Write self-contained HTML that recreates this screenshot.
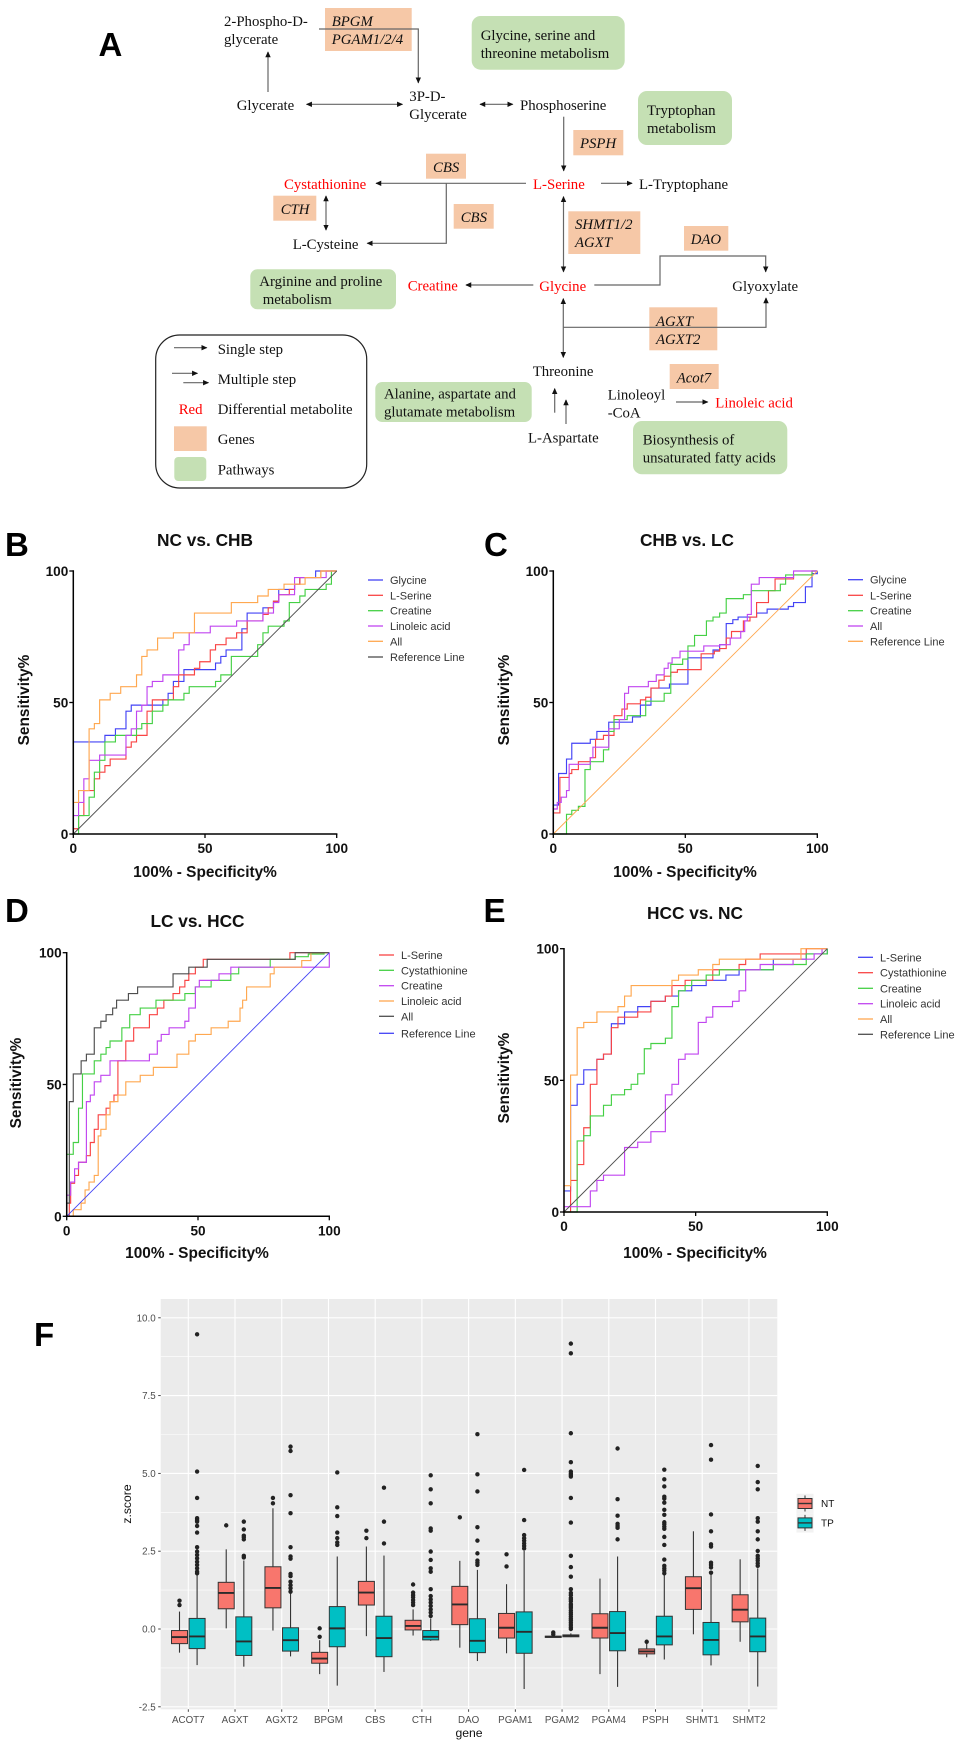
<!DOCTYPE html>
<html lang="en">
<head>
<meta charset="utf-8">
<title>Serine and glycine metabolism figure</title>
<style>
html,body{margin:0;padding:0;background:#fff;width:963px;height:1748px;overflow:hidden}
svg{display:block;filter:blur(.3px)}
.m{font:14.8px "Liberation Serif",serif;fill:#111}
.i{font:italic 14.8px "Liberation Serif",serif;fill:#111}
.r{fill:#f00}
.gene{fill:#f6c8a7}
.path{fill:#c5e0b4}
.ln{fill:none;stroke:#666;stroke-width:1.2}
.panel{font:bold 33px "Liberation Sans",sans-serif;fill:#000}
</style>
</head>
<body>
<svg id="fig" xmlns="http://www.w3.org/2000/svg" width="963" height="1748" viewBox="0 0 963 1748">
<defs>
<marker id="ah" viewBox="0 0 8 8" refX="7" refY="4" markerWidth="6" markerHeight="6" markerUnits="userSpaceOnUse" orient="auto-start-reverse"><path d="M0 0.4L8 4L0 7.6z" fill="#111"/></marker>
</defs>
<rect width="963" height="1748" fill="#fff"/>

<g id="panel-a">
<text class="panel" x="98.5" y="56">A</text>

<rect class="gene" x="325" y="8" width="86.7" height="43"/>
<rect class="gene" x="573.3" y="130" width="50" height="25.3"/>
<rect class="gene" x="426" y="153.7" width="40" height="25"/>
<rect class="gene" x="273.3" y="195.7" width="43" height="25"/>
<rect class="gene" x="453.7" y="204" width="40" height="24.7"/>
<rect class="gene" x="568.3" y="211.3" width="72" height="42.7"/>
<rect class="gene" x="684" y="226" width="44.3" height="24.7"/>
<rect class="gene" x="649.3" y="307.3" width="68" height="43"/>
<rect class="gene" x="669.7" y="364" width="49" height="25"/>

<rect class="path" x="471.7" y="16" width="153" height="53.7" rx="9"/>
<rect class="path" x="638" y="91" width="94" height="54" rx="9"/>
<rect class="path" x="250.3" y="269.3" width="145.7" height="40" rx="7"/>
<rect class="path" x="375.3" y="382" width="156.4" height="40" rx="7"/>
<rect class="path" x="633" y="421" width="154.3" height="53.3" rx="9"/>

<path class="ln" d="M268 92V52" marker-end="url(#ah)"/>
<path class="ln" d="M319 29H418.3V82.7" marker-end="url(#ah)"/>
<path class="ln" d="M306.7 104.3H402.3" marker-start="url(#ah)" marker-end="url(#ah)"/>
<path class="ln" d="M480 104.3H512.7" marker-start="url(#ah)" marker-end="url(#ah)"/>
<path class="ln" d="M563.7 116.7V170.7" marker-end="url(#ah)"/>
<path class="ln" d="M526 183.3H376" marker-end="url(#ah)"/>
<path class="ln" d="M446.3 183.3V243.3H367.3" marker-end="url(#ah)"/>
<path class="ln" d="M601 183.3H632" marker-end="url(#ah)"/>
<path class="ln" d="M326 196V230" marker-start="url(#ah)" marker-end="url(#ah)"/>
<path class="ln" d="M563.5 196.7V271.7" marker-start="url(#ah)" marker-end="url(#ah)"/>
<path class="ln" d="M533.3 285H466" marker-end="url(#ah)"/>
<path class="ln" d="M594.3 285H660V256H765.7V271.7" marker-end="url(#ah)"/>
<path class="ln" d="M563.3 298.7V357.3" marker-start="url(#ah)" marker-end="url(#ah)"/>
<path class="ln" d="M563.3 327.3H766V298" marker-end="url(#ah)"/>
<path class="ln" d="M554.7 412.7V388.7" marker-end="url(#ah)"/>
<path class="ln" d="M566 424V400" marker-end="url(#ah)"/>
<path class="ln" d="M676 402H707.7" marker-end="url(#ah)"/>

<text class="m" x="224" y="26">2-Phospho-D-</text>
<text class="m" x="224" y="44">glycerate</text>
<text class="i" x="331.7" y="26">BPGM</text>
<text class="i" x="331.7" y="44">PGAM1/2/4</text>
<text class="m" x="480.7" y="40">Glycine, serine and</text>
<text class="m" x="480.7" y="58">threonine metabolism</text>
<text class="m" x="236.7" y="110">Glycerate</text>
<text class="m" x="409.3" y="101">3P-D-</text>
<text class="m" x="409.3" y="119">Glycerate</text>
<text class="m" x="520" y="110">Phosphoserine</text>
<text class="m" x="647" y="115">Tryptophan</text>
<text class="m" x="647" y="133">metabolism</text>
<text class="i" x="580" y="148">PSPH</text>
<text class="i" x="433" y="172">CBS</text>
<text class="m r" x="284" y="189">Cystathionine</text>
<text class="m r" x="533" y="189">L-Serine</text>
<text class="m" x="639" y="189">L-Tryptophane</text>
<text class="i" x="280.7" y="214">CTH</text>
<text class="i" x="460.7" y="222">CBS</text>
<text class="i" x="575" y="229">SHMT1/2</text>
<text class="i" x="575" y="247">AGXT</text>
<text class="i" x="690.7" y="244">DAO</text>
<text class="m" x="292.7" y="249">L-Cysteine</text>
<text class="m" x="259.3" y="286">Arginine and proline</text>
<text class="m" x="262.7" y="304">metabolism</text>
<text class="m r" x="407.7" y="290.7">Creatine</text>
<text class="m r" x="539.3" y="291">Glycine</text>
<text class="m" x="732.3" y="291">Glyoxylate</text>
<text class="i" x="656" y="326">AGXT</text>
<text class="i" x="656" y="344">AGXT2</text>
<text class="m" x="532.7" y="376">Threonine</text>
<text class="i" x="676.7" y="382.7">Acot7</text>
<text class="m" x="607.7" y="399.3">Linoleoyl</text>
<text class="m" x="607.7" y="417.7">-CoA</text>
<text class="m r" x="715.3" y="407.7">Linoleic acid</text>
<text class="m" x="384" y="398.3">Alanine, aspartate and</text>
<text class="m" x="384" y="416.7">glutamate metabolism</text>
<text class="m" x="528" y="442.3">L-Aspartate</text>
<text class="m" x="642.7" y="444.3">Biosynthesis of</text>
<text class="m" x="642.7" y="462.3">unsaturated fatty acids</text>

<g>
<rect x="155.7" y="335" width="211" height="153" rx="24" fill="none" stroke="#222" stroke-width="1.2"/>
<path class="ln" d="M174 347.7H206.7" marker-end="url(#ah)"/>
<path class="ln" d="M172 373.3H197.3" marker-end="url(#ah)"/>
<path class="ln" d="M183.3 382.7H208.3" marker-end="url(#ah)"/>
<rect class="gene" x="174" y="426.3" width="32.7" height="24.7"/>
<rect class="path" x="174.3" y="457" width="32" height="24" rx="4"/>
<text class="m" x="217.7" y="354">Single step</text>
<text class="m" x="217.7" y="384">Multiple step</text>
<text class="m r" x="178.7" y="414">Red</text>
<text class="m" x="217.7" y="414">Differential metabolite</text>
<text class="m" x="217.7" y="444">Genes</text>
<text class="m" x="217.7" y="474.5">Pathways</text>
</g>
</g>

<text class="panel" x="5" y="556">B</text>
<text class="panel" x="484" y="556">C</text>
<text class="panel" x="5" y="922">D</text>
<text class="panel" x="483.5" y="922">E</text>
<text class="panel" x="34" y="1346">F</text>
</svg>

<script>
// ROC tick labels
const rocTicks = [0, 50, 100];

// Panel B: NC vs. CHB. Each entry: [100%-specificity, sensitivity]
const rocB_glycine = [[0,35],[12,37.5],[16,40],[20,46.7],[22,49],[34,51],[36,53.5],[38,58],[42,62.5],[54,65],[56,67.5],[58,70],[64,78],[66,84],[72,86],[76,88.5],[78,93],[84,95],[86,97.5],[92,100],[100,100]];
const rocB_serine = [[0,2],[2,7],[4,16.5],[8,21],[10,23.5],[12,26],[14,28.5],[20,33],[22,35],[24,37.5],[28,46.7],[30,51],[38,56],[40,60.5],[46,63],[48,65.5],[52,70],[54,72],[58,74.5],[62,76.5],[66,81],[72,83.5],[74,86],[76,88.5],[78,91],[82,93],[84,95],[86,97.5],[94,100],[100,100]];
const rocB_creatine = [[0,0],[2,7],[6,14],[8,23.5],[10,28],[12,35],[16,37.5],[24,40],[26,42],[30,46.7],[34,49],[36,51],[42,53.5],[44,56],[54,58],[56,60.5],[60,67.5],[70,72],[72,76.5],[74,79],[80,81],[82,88],[86,90.5],[88,93],[96,95],[98,100],[100,100]];
const rocB_linoleic = [[0,7],[2,12],[4,21],[6,28],[10,30],[20,37.5],[22,40],[24,46.7],[26,49],[28,56],[30,58],[34,60.5],[40,70],[42,72],[44,76.5],[52,79],[62,81],[72,84],[76,88],[78,91],[84,97.5],[96,100],[100,100]];
const rocB_all = [[0,12],[2,16.5],[6,40],[8,42],[10,51],[14,53.5],[18,56],[24,60.5],[26,67.5],[28,70],[32,74.5],[38,76.5],[46,84],[60,88],[70,90.5],[74,93],[80,95],[88,97.5],[94,100],[100,100]];
const rocB_names = ["Glycine","L-Serine","Creatine","Linoleic acid","All","Reference Line"];

// Panel C: CHB vs. LC
const rocC_glycine = [[0,11],[2,23],[5,28.5],[7,34.5],[14,36],[16.5,39],[21,42.5],[30,44.5],[33,49],[37,55.5],[44,57],[51,67],[60.5,70],[63,72],[65.5,80],[68,81.5],[70,82.5],[77,84],[81,85.5],[89,86.5],[91,88],[95.5,94],[98,99],[100,100]];
const rocC_serine = [[0,8],[2.5,21.5],[6,23],[7,24.5],[9.5,27.5],[14,29],[16,36],[19,37.5],[23,45],[26,47.5],[28,49.5],[33,51],[35,52],[37,55.5],[40,58.5],[42,60],[44.5,61.5],[47,62.5],[56,68.5],[61,69.5],[63,70.5],[65.5,74.5],[67.5,77],[72,81],[74.5,82.5],[77,88],[81.5,92.5],[84,97],[91,98.5],[98,100],[100,100]];
const rocC_creatine = [[5,7.5],[7,9],[9.5,10.5],[12,24.5],[14,27.5],[19,32],[21,39],[23,43.5],[28,45],[35,50.5],[42,53.5],[44.5,64.5],[49,66.5],[51,71.5],[53.5,75.5],[58,81],[60.5,82.5],[63,84],[65.5,89.5],[72,91],[75,92.5],[86,95],[88,98.5],[98,100],[100,100]];
const rocC_all = [[0,9.5],[1.5,12],[3,14],[5,16.5],[6,26.5],[14,29],[15,33],[21,40],[25,43.5],[27,53.5],[28.5,56],[36,58],[39,60.5],[42,63],[43.5,65],[45,67],[48,69.5],[57,71.5],[63,72],[67,74.5],[71,77],[72.5,81],[73.5,83.5],[75,95],[78,97.5],[91,100],[100,100]];
const rocC_names = ["Glycine","L-Serine","Creatine","All","Reference Line"];

// Panel D: LC vs. HCC
const rocD_serine = [[0,0],[1,5],[1.5,12.5],[3,15.5],[4.5,20.5],[7.5,23],[9,28],[10.5,33],[12,38.5],[15,41],[16.5,43.5],[18,46],[19.5,59],[22.5,66.5],[25.5,71.5],[31.5,76.5],[34.5,79],[37,82],[40.5,84.5],[43,87],[45,89.5],[46.5,92],[49,94.5],[52,97.5],[85,100],[100,100]];
const rocD_cystathionine = [[0,23.5],[2.5,28],[4.5,41],[6,54],[10.5,59],[13,61.5],[15,64],[16.5,66.5],[21,71.5],[24,76.5],[28,79],[34,82],[45,84.5],[49,87],[55,89.5],[62.5,92],[65.5,94.5],[77.5,97.5],[87,98.5],[92,99.5],[98,100],[100,100]];
const rocD_creatine = [[0,8],[1.5,13],[3,18],[4.5,20.5],[7.5,43.5],[9,46],[10.5,51],[13,53.5],[16.5,59],[31.5,61.5],[34.5,66.5],[36,69],[39,71.5],[45,74],[46.5,79],[49,87],[50.5,89.5],[58,92],[62.5,94.5],[100,100]];
const rocD_linoleic = [[0,0],[2.5,2.5],[5.5,5],[7,10],[8.5,13],[10.5,15.5],[12,30.5],[13,33],[15,38.5],[16.5,43.5],[19.5,46],[22.5,51],[28,53.5],[33,56.5],[42,61.5],[46.5,66.5],[49,69],[55,71.5],[61.5,74],[66,79],[67,82],[68.5,87],[77.5,92],[79,94.5],[89.5,97],[93,100],[100,100]];
const rocD_all = [[0,5],[1,43.5],[2.5,54],[5.5,59],[7.5,61.5],[10.5,71.5],[13,74],[15,76.5],[17.5,79],[19,82],[23.5,84.5],[27,87],[40.5,92],[46.5,94.5],[53.5,97.5],[87,100],[100,100]];
const rocD_names = ["L-Serine","Cystathionine","Creatine","Linoleic acid","All","Reference Line"];

// Panel E: HCC vs. NC
const rocE_serine = [[0,8],[2.5,40.5],[5,48.5],[7.5,54],[12.5,58],[15,60],[18,71.5],[23,76],[28,78],[33,80],[38.5,82],[43.5,84],[48.5,86],[54,88],[61.5,90],[66.5,92],[79.5,96],[92,98],[100,100]];
const rocE_cystathionine = [[0,0],[2.5,12],[5,18],[7.5,32],[10,48.5],[12.5,58],[15,60],[18,70],[20.5,74],[28,76],[33,80],[38.5,82],[41,86],[46,88],[56.5,92],[66.5,94],[69,96],[74.5,98],[92,100],[100,100]];
const rocE_creatine = [[0,0],[5,27],[7.5,29],[10,36.5],[15,40.5],[18,44.5],[23,46.5],[25.5,48.5],[28,52.5],[30.5,62],[33,64],[38.5,66],[41,78],[43.5,84],[46,86],[48.5,88],[54,90],[59,92],[79.5,94],[92,98],[100,100]];
const rocE_linoleic = [[0,2],[10,8],[12.5,12],[15,14],[23,24.5],[28,26.5],[33,30.5],[38.5,44.5],[41,48.5],[43.5,58],[46,60],[51,72],[54,74],[56.5,78],[64,80],[66.5,84],[69,92],[74.5,94],[87,96],[95,98],[98,100],[100,100]];
const rocE_all = [[0,10],[2.5,52],[5,70],[7.5,72],[12.5,76],[20.5,78],[23,82],[25.5,86],[41,88],[43.5,90],[51,92],[56.5,94],[59,96],[90,100],[100,100]];
const rocE_names = ["L-Serine","Cystathionine","Creatine","Linoleic acid","All","Reference Line"];

// Panel F: boxplot data
const genes = ["ACOT7","AGXT","AGXT2","BPGM","CBS","CTH","DAO","PGAM1","PGAM2","PGAM4","PSPH","SHMT1","SHMT2"];
const groupNames = ["NT","TP"];
const zTicks = [-2.5,0,2.5,5,7.5,10];
const zTickLabels = ["-2.5","0.0","2.5","5.0","7.5","10.0"];
const ntLow = [-0.76,0.02,-0.05,-1.45,-0.23,-0.21,-0.6,-0.78,-0.27,-1.45,-0.91,-0.17,-0.41];
const ntQ1 = [-0.47,0.65,0.68,-1.1,0.77,-0.03,0.14,-0.29,-0.27,-0.29,-0.8,0.63,0.23];
const ntMedian = [-0.26,1.16,1.32,-0.95,1.17,0.1,0.79,0.04,-0.25,0.04,-0.72,1.31,0.62];
const ntQ3 = [-0.05,1.5,2.0,-0.75,1.53,0.28,1.37,0.5,-0.23,0.49,-0.64,1.68,1.1];
const ntHigh = [0.56,2.56,3.88,-0.36,2.65,0.63,2.19,1.44,-0.2,1.62,-0.48,3.14,2.24];
const tpLow = [-1.16,-1.21,-0.88,-1.82,-1.38,-0.38,-1.03,-1.93,-0.26,-1.86,-0.98,-1.17,-1.85];
const tpQ1 = [-0.63,-0.85,-0.71,-0.57,-0.89,-0.35,-0.76,-0.78,-0.25,-0.7,-0.51,-0.83,-0.73];
const tpMedian = [-0.24,-0.4,-0.36,0.02,-0.29,-0.25,-0.38,-0.09,-0.21,-0.13,-0.24,-0.35,-0.24];
const tpQ3 = [0.34,0.39,0.04,0.72,0.41,-0.05,0.33,0.55,-0.19,0.56,0.41,0.21,0.35];
const tpHigh = [1.8,2.2,1.15,2.33,2.36,0.34,1.9,2.51,-0.14,2.33,1.74,1.79,1.95];
const ntOutliers = [[0.91,0.77],[3.33],[4.21,4.04],[0.02,-0.25],[3.16,2.92],[1.43,1.17,1.09,1.02,0.93,0.85,0.77],[3.59],[2.4,2.01],[-0.11,-0.17],[],[-0.41],[],[]];
const tpOutliers = [
 [9.47,5.06,4.21,3.56,3.5,3.45,3.31,3.1,2.63,2.49,2.38,2.27,2.16,2.06,1.95,1.84,1.79],
 [3.45,3.2,3.0,2.95,2.88,2.35,2.3],
 [5.86,5.72,4.3,3.72,2.63,2.33,2.26,1.77,1.7,1.52,1.41,1.31,1.2],
 [5.03,3.91,3.63,3.1,2.92,2.78,2.7],
 [4.54,3.45,2.75],
 [4.94,4.49,4.04,3.23,3.16,2.49,2.22,1.95,1.84,1.28,1.06,0.95,0.85,0.74,0.63,0.53,0.42],
 [6.26,4.97,4.42,3.27,2.84,2.43,2.2,2.13,2.06],
 [5.11,3.5,3.02,2.92,2.84,2.75,2.67,2.59],
 [9.17,8.86,6.29,5.36,5.06,5.0,4.95,4.9,4.21,3.42,2.35,1.99,1.68,1.28,1.16,1.09,1.0,0.95,0.89,0.8,0.74,0.68,0.6,0.53,0.47,0.4,0.33,0.27,0.2,0.13,0.06,0.0],
 [5.8,4.17,3.64,3.38,3.31,3.25,2.88],
 [5.12,4.81,4.58,4.25,4.19,4.06,3.83,3.67,3.43,3.37,3.29,3.22,2.96,2.7,2.23,2.03,1.95,1.88,1.79],
 [5.91,5.44,3.68,3.14,2.72,2.65,2.13,2.06,1.98,1.81],
 [5.24,4.72,4.49,3.56,3.45,3.14,2.88,2.51,2.35,2.27,2.2,2.11,2.03]
];

const SANS = '"Liberation Sans",sans-serif';
const NS = 'http://www.w3.org/2000/svg';
const fig = document.getElementById('fig');
function mk(parent, tag, attrs, text) {
  const e = document.createElementNS(NS, tag);
  for (const k in attrs) e.setAttribute(k, attrs[k]);
  if (text !== undefined) e.textContent = text;
  parent.appendChild(e);
  return e;
}
function slug(s) { return String(s).toLowerCase().replace(/[^a-z0-9]+/g, '-'); }

const BLUE = '#4343f5', RED = '#f94444', GREEN = '#45d045', PURPLE = '#c146f0', ORANGE = '#ffa850', GRAY = '#4e4e4e';

function drawRoc(cfg) {
  const sx = v => cfg.x0 + (cfg.x1 - cfg.x0) * v / 100;
  const sy = v => cfg.y0 - (cfg.y0 - cfg.y1) * v / 100;
  const g = mk(fig, 'g', {});
  
  

  const title = mk(g, 'text', {x: cfg.titleX, y: cfg.titleY + 6, 'text-anchor': 'middle', 'font-family': SANS, 'font-weight': 'bold', 'font-size': 17.3, fill: '#111'}, cfg.title);
  
  

  cfg.series.forEach((pts, i) => {
    let d = 'M' + sx(0) + ' ' + sy(0);
    pts.forEach(p => { d += 'H' + sx(p[0]).toFixed(2) + 'V' + sy(p[1]).toFixed(2); });
    const line = mk(g, 'path', {d: d, fill: 'none', stroke: cfg.colors[i], 'stroke-width': 1.15});
    
    
  });
  const refIndex = cfg.names.length - 1;
  const ref = mk(g, 'line', {x1: sx(0), y1: sy(0), x2: sx(100), y2: sy(100), stroke: cfg.colors[refIndex], 'stroke-width': 0.9});
  
  

  const xAxis = mk(g, 'line', {x1: sx(0) - 1, y1: sy(0), x2: sx(100) + 0.7, y2: sy(0), stroke: '#000', 'stroke-width': 1.5});
  
  
  const yAxis = mk(g, 'line', {x1: sx(0), y1: sy(0) + 0.7, x2: sx(0), y2: sy(100) - 0.7, stroke: '#000', 'stroke-width': 1.5});
  
  

  rocTicks.forEach(t => {
    const xt = mk(g, 'line', {x1: sx(t), y1: sy(0), x2: sx(t), y2: sy(0) + 4, stroke: '#000', 'stroke-width': 1.3});
    
    
    const yt = mk(g, 'line', {x1: sx(0) - 4, y1: sy(t), x2: sx(0), y2: sy(t), stroke: '#000', 'stroke-width': 1.3});
    
    
    const xl = mk(g, 'text', {x: sx(t), y: sy(0) + 19, 'text-anchor': 'middle', 'font-family': SANS, 'font-weight': 'bold', 'font-size': 13.6, fill: '#111'}, t);
    
    
    const yl = mk(g, 'text', {x: sx(0) - 5, y: sy(t) + 5, 'text-anchor': 'end', 'font-family': SANS, 'font-weight': 'bold', 'font-size': 13.6, fill: '#111'}, t);
    
    
  });

  const xt = mk(g, 'text', {x: cfg.xTitleX, y: cfg.xTitleY + 5, 'text-anchor': 'middle', 'font-family': SANS, 'font-weight': 'bold', 'font-size': 15.4, fill: '#111'}, '100% - Specificity%');
  
  
  const yt = mk(g, 'text', {transform: 'translate(' + (cfg.yTitleX + 5) + ' ' + cfg.yTitleY + ') rotate(-90)', 'text-anchor': 'middle', 'font-family': SANS, 'font-weight': 'bold', 'font-size': 15.4, fill: '#111'}, 'Sensitivity%');
  
  

  cfg.names.forEach((n, i) => {
    const ly = cfg.legendY[i];
    const sw = mk(g, 'line', {x1: cfg.legendX, y1: ly, x2: cfg.legendX + 15, y2: ly, stroke: cfg.colors[i], 'stroke-width': 1.3});
    
    
    const tx = mk(g, 'text', {x: cfg.legendX + 22, y: ly + 4, 'font-family': SANS, 'font-size': 11, fill: '#333'}, n);
    
    
  });
}

drawRoc({id:'b', title:'NC vs. CHB', x0:73.3, x1:336.7, y0:834, y1:571, titleX:205, titleY:540, xTitleX:205, xTitleY:872, yTitleX:24, yTitleY:700,
  legendX:368, legendY:[580,595.3,610.7,626,641.3,657],
  series:[rocB_glycine,rocB_serine,rocB_creatine,rocB_linoleic,rocB_all], names:rocB_names, colors:[BLUE,RED,GREEN,PURPLE,ORANGE,GRAY]});
drawRoc({id:'c', title:'CHB vs. LC', x0:553.3, x1:817.3, y0:834, y1:571, titleX:687, titleY:540, xTitleX:685, xTitleY:872, yTitleX:504, yTitleY:700,
  legendX:848, legendY:[579.7,595.3,610.7,626,641.3],
  series:[rocC_glycine,rocC_serine,rocC_creatine,rocC_all], names:rocC_names, colors:[BLUE,RED,GREEN,PURPLE,ORANGE]});
drawRoc({id:'d', title:'LC vs. HCC', x0:66.7, x1:329.3, y0:1216.3, y1:952.7, titleX:197.5, titleY:921, xTitleX:197, xTitleY:1253, yTitleX:16, yTitleY:1083,
  legendX:379, legendY:[955,970.3,985.7,1001,1016.3,1033.3],
  series:[rocD_serine,rocD_cystathionine,rocD_creatine,rocD_linoleic,rocD_all], names:rocD_names, colors:[RED,GREEN,PURPLE,ORANGE,GRAY,BLUE]});
drawRoc({id:'e', title:'HCC vs. NC', x0:564, x1:827.3, y0:1212, y1:948.7, titleX:695, titleY:913, xTitleX:695, xTitleY:1253, yTitleX:504, yTitleY:1078,
  legendX:858, legendY:[957.3,972.7,988.3,1003.7,1019,1034.3],
  series:[rocE_serine,rocE_cystathionine,rocE_creatine,rocE_linoleic,rocE_all], names:rocE_names, colors:[BLUE,RED,GREEN,PURPLE,ORANGE,GRAY]});

(function drawBoxplot() {
  const left = 160.7, right = 777.3, top = 1299, bottom = 1709.3;
  const zScale = v => 1629 - v * 31.12;
  const catX = i => 188.3 + i * 46.72;
  const boxW = 16, dodge = 8.8;
  const fills = ['#f8766d', '#00bfc4'];
  const ink = '#333';

  const g = mk(fig, 'g', {});
  
  

  const bg = mk(g, 'rect', {x: left, y: top, width: right - left, height: bottom - top, fill: '#ebebeb'});
  
  

  zTicks.slice(0, -1).forEach((t, i) => {
    const mid = (t + zTicks[i + 1]) / 2;
    const mg = mk(g, 'line', {x1: left, x2: right, y1: zScale(mid), y2: zScale(mid), stroke: '#fff', 'stroke-width': 0.6});
    
    
  });
  zTicks.forEach((t, i) => {
    const yp = zScale(t);
    const gl = mk(g, 'line', {x1: left, x2: right, y1: yp, y2: yp, stroke: '#fff', 'stroke-width': 1.1});
    
    
    const tk = mk(g, 'line', {x1: left - 2.5, x2: left, y1: yp, y2: yp, stroke: ink, 'stroke-width': 0.9});
    
    
    const lb = mk(g, 'text', {x: left - 5, y: yp + 3.5, 'text-anchor': 'end', 'font-family': SANS, 'font-size': 9.8, fill: '#4d4d4d'}, zTickLabels[i]);
    
    
  });
  genes.forEach((name, i) => {
    const xp = catX(i);
    const gl = mk(g, 'line', {x1: xp, x2: xp, y1: top, y2: bottom, stroke: '#fff', 'stroke-width': 1.1});
    
    
    const tk = mk(g, 'line', {x1: xp, x2: xp, y1: bottom, y2: bottom + 2.5, stroke: ink, 'stroke-width': 0.9});
    
    
    const lb = mk(g, 'text', {x: xp, y: bottom + 13.5, 'text-anchor': 'middle', 'font-family': SANS, 'font-size': 9.8, fill: '#4d4d4d'}, name);
    
    
  });

  function drawBox(parent, cx, low, q1, med, q3, high, fill) {
    const wh = mk(parent, 'line', {x1: cx, x2: cx, y1: zScale(low), y2: zScale(high), stroke: ink, 'stroke-width': 1.1});
    
    
    const bx = mk(parent, 'rect', {x: cx - boxW / 2, y: zScale(q3), width: boxW, height: Math.max(zScale(q1) - zScale(q3), 0.5), fill: fill, stroke: ink, 'stroke-width': 1});
    
    
    const md = mk(parent, 'line', {x1: cx - boxW / 2, x2: cx + boxW / 2, y1: zScale(med), y2: zScale(med), stroke: '#2b2b2b', 'stroke-width': 1.9});
    
    
  }

  genes.forEach((name, i) => {
    const cg = mk(g, 'g', {});
    
    
    const nx = catX(i) - dodge, tx = catX(i) + dodge;
    drawBox(cg, nx, ntLow[i], ntQ1[i], ntMedian[i], ntQ3[i], ntHigh[i], fills[0]);
    drawBox(cg, tx, tpLow[i], tpQ1[i], tpMedian[i], tpQ3[i], tpHigh[i], fills[1]);
    ntOutliers[i].forEach(v => {
      const o = mk(cg, 'circle', {cx: nx, cy: zScale(v), r: 2.2, fill: '#222'});
      
      
    });
    tpOutliers[i].forEach(v => {
      const o = mk(cg, 'circle', {cx: tx, cy: zScale(v), r: 2.2, fill: '#222'});
      
      
    });
  });

  const xTitle = mk(g, 'text', {x: 469, y: 1737, 'text-anchor': 'middle', 'font-family': SANS, 'font-size': 12.2, fill: '#111'}, 'gene');
  
  
  const yTitle = mk(g, 'text', {transform: 'translate(131 1504) rotate(-90)', 'text-anchor': 'middle', 'font-family': SANS, 'font-size': 12.2, fill: '#111'}, 'z.score');
  
  

  groupNames.forEach((n, i) => {
    const cy = 1503.5 + i * 19.4;
    const key = mk(g, 'rect', {x: 796.5, y: cy - 9.7, width: 17, height: 19.4, fill: '#f2f2f2'});
    
    
    const wh = mk(g, 'line', {x1: 805, x2: 805, y1: cy - 8, y2: cy + 8, stroke: ink, 'stroke-width': 1});
    
    
    const bx = mk(g, 'rect', {x: 798, y: cy - 5, width: 14, height: 10, fill: fills[i], stroke: ink, 'stroke-width': 1});
    
    
    const md = mk(g, 'line', {x1: 798, x2: 812, y1: cy, y2: cy, stroke: ink, 'stroke-width': 1.4});
    
    
    const tx = mk(g, 'text', {x: 821, y: cy + 3.7, 'font-family': SANS, 'font-size': 10, fill: '#111'}, n);
    
    
  });
})();
</script>
</body>
</html>
